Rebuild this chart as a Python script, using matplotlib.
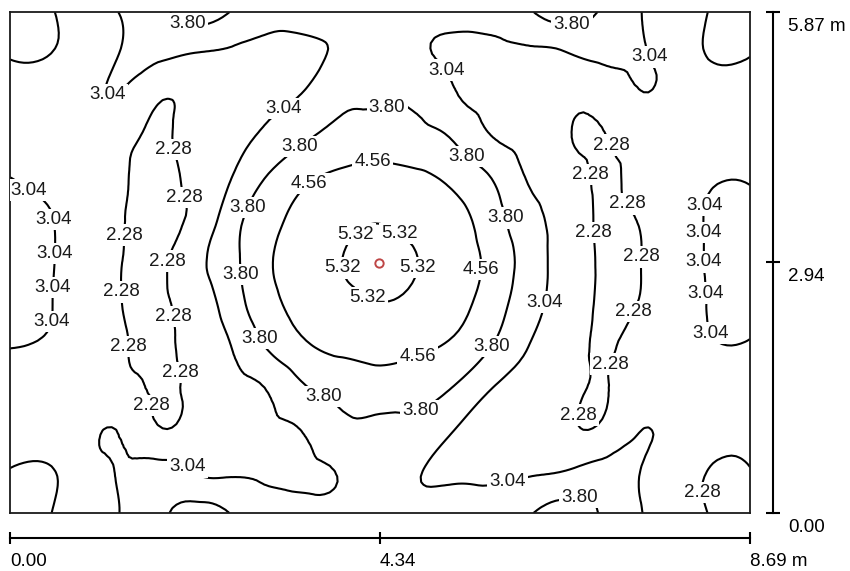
import numpy as np
import matplotlib
matplotlib.use("Agg")
import matplotlib.pyplot as plt
import matplotlib.tri as mtri
from matplotlib.transforms import ScaledTranslation

plt.rcParams['font.family'] = ['Liberation Sans', 'DejaVu Sans']

room_width = 8.69
room_depth = 5.87

# illuminance, one row per grid line from the top wall down
x_nodes = np.linspace(0, room_width, 21)
y_nodes = np.linspace(room_depth, 0, 13)
lux_rows = [
    [2.05, 2.20, 2.70, 3.06, 3.50, 4.30, 3.75, 3.30, 3.25, 3.30, 3.40, 3.35, 3.25, 3.30, 3.70, 4.30, 3.70, 3.08, 2.75, 2.20, 2.05],
    [2.22, 2.25, 2.65, 3.06, 3.20, 3.02, 2.95, 2.90, 2.95, 3.20, 3.45, 3.15, 2.95, 2.90, 2.92, 3.00, 3.20, 3.10, 2.75, 2.20, 2.25],
    [2.60, 2.65, 2.80, 3.00, 2.38, 2.55, 2.80, 2.95, 3.10, 3.62, 3.68, 3.62, 3.10, 2.85, 2.80, 2.50, 2.55, 3.00, 2.80, 2.65, 2.60],
    [2.70, 2.72, 2.62, 2.45, 2.22, 2.45, 2.80, 3.20, 3.71, 4.06, 4.17, 4.06, 3.72, 3.06, 2.80, 2.35, 2.24, 2.60, 2.75, 2.70, 2.70],
    [3.05, 2.92, 2.75, 2.35, 2.20, 2.40, 3.06, 3.90, 4.47, 4.74, 4.83, 4.72, 4.40, 3.82, 3.00, 2.60, 2.20, 2.50, 2.75, 2.98, 3.00],
    [3.15, 3.08, 2.72, 2.30, 2.20, 2.45, 3.50, 4.33, 4.82, 5.14, 5.30, 5.14, 4.80, 4.18, 3.32, 2.72, 2.20, 2.30, 2.70, 3.12, 3.15],
    [3.20, 3.10, 2.70, 2.29, 2.18, 2.79, 3.60, 4.49, 4.94, 5.33, 5.45, 5.33, 4.92, 4.37, 3.47, 2.72, 2.22, 2.26, 2.70, 3.12, 3.18],
    [3.20, 3.08, 2.72, 2.29, 2.18, 2.60, 3.42, 4.34, 4.82, 5.15, 5.30, 5.15, 4.80, 4.20, 3.35, 2.70, 2.20, 2.30, 2.70, 3.10, 3.15],
    [3.06, 2.98, 2.75, 2.35, 2.20, 2.45, 3.06, 3.90, 4.49, 4.74, 4.84, 4.72, 4.45, 3.82, 3.05, 2.60, 2.22, 2.50, 2.78, 3.00, 3.00],
    [2.75, 2.75, 2.65, 2.45, 2.22, 2.45, 2.85, 3.10, 3.76, 4.08, 4.20, 4.08, 3.76, 3.06, 2.85, 2.50, 2.25, 2.60, 2.75, 2.70, 2.65],
    [2.60, 2.60, 2.80, 2.98, 2.33, 2.60, 2.85, 2.95, 3.10, 3.60, 3.62, 3.60, 3.05, 2.90, 2.80, 2.45, 2.40, 3.02, 2.80, 2.60, 2.55],
    [2.25, 2.22, 2.70, 3.10, 3.30, 3.02, 2.95, 2.95, 2.95, 3.10, 3.40, 3.10, 2.95, 2.95, 2.97, 3.05, 3.30, 3.05, 2.75, 2.20, 2.25],
    [2.00, 2.22, 2.70, 3.06, 3.50, 4.30, 3.75, 3.30, 3.25, 3.30, 3.40, 3.40, 3.30, 3.40, 3.70, 4.30, 3.70, 3.06, 2.75, 2.22, 2.00],
]

levels = [2.28, 3.04, 3.80, 4.56, 5.32]

luminaire_x = [4.33]
luminaire_y = [2.93]

x_ticks = [0.0, 4.34, 8.69]
x_tick_labels = ['0.00', '4.34', '8.69 m']
y_ticks = [0.0, 2.94, 5.87]
y_tick_labels = ['0.00', '2.94', '5.87 m']

# where the value labels sit (metres), one list per isoline
label_spots = {
    2.28: [(2.02, 4.28), (1.90, 3.62), (1.27, 3.26), (1.81, 2.96), (1.27, 2.59),
           (1.90, 2.30), (1.43, 1.95), (2.03, 1.65), (1.80, 1.27),
           (7.06, 4.31), (6.67, 3.93), (7.28, 3.64), (6.81, 3.28), (7.40, 3.00),
           (7.32, 2.36), (7.10, 1.73), (6.63, 1.15), (8.03, 0.23)],
    3.04: [(1.07, 4.80), (3.21, 4.75), (5.13, 5.19), (7.36, 5.31),
           (0.25, 3.82), (0.28, 3.41), (0.32, 3.05), (0.31, 2.65), (0.26, 2.30),
           (8.01, 3.63), (8.23, 3.29), (8.27, 2.94), (8.23, 2.58), (7.90, 1.97),
           (6.28, 2.47), (2.04, 0.47), (5.86, 0.29)],
    3.80: [(2.08, 5.72), (6.60, 5.72), (4.44, 4.69), (3.37, 4.34), (5.41, 4.22),
           (2.81, 3.57), (2.69, 2.79), (2.91, 2.03), (5.65, 1.95), (5.88, 3.47),
           (3.66, 1.32), (4.78, 1.27), (6.69, 0.19)],
    4.56: [(4.25, 4.25), (3.46, 3.93), (5.55, 2.85), (4.83, 1.71)],
    5.32: [(4.04, 3.28), (4.59, 3.29), (3.89, 2.87), (4.77, 2.88), (4.20, 2.52)],
}

W, H = 850, 571


def px_box(x0, y0, x1, y1):
    return [x0 / W, 1 - y1 / H, (x1 - x0) / W, (y1 - y0) / H]


fig = plt.figure(figsize=(W / 100, H / 100), dpi=100)
ax = fig.add_axes(px_box(10, 12, 750, 513))
ax.set_xlim(0, room_width)
ax.set_ylim(0, room_depth)
ax.set_xticks([])
ax.set_yticks([])
for s in ax.spines.values():
    s.set_linewidth(1.3)
    s.set_color('#1a1a1a')

# grid cells split into two triangles each, then smoothed by the refiner
X, Y = np.meshgrid(x_nodes, y_nodes)
Z = np.array(lux_rows)
ny, nx = Z.shape
idx = np.arange(ny * nx).reshape(ny, nx)
a = idx[:-1, :-1].ravel()
b = idx[:-1, 1:].ravel()
c = idx[1:, :-1].ravel()
d = idx[1:, 1:].ravel()
cells = np.concatenate([np.column_stack([a, c, b]), np.column_stack([b, c, d])])
triang = mtri.Triangulation(X.ravel(), Y.ravel(), cells)
fine_tri, fine_z = mtri.UniformTriRefiner(triang).refine_field(Z.ravel(), subdiv=3)

for lev in levels:
    cs = ax.tricontour(fine_tri, fine_z, levels=[lev], colors='black', linewidths=1.5)
    texts = cs.clabel(fmt='%.2f', manual=label_spots[lev], inline=False, fontsize=13.5)
    for t in texts:
        t.set_rotation(0)
        t.set_color('#1a1a1a')
        t.set_bbox(dict(boxstyle='square,pad=0.12', fc='white', ec='none'))

ax.plot(luminaire_x, luminaire_y, 'o', mfc='none', mec='#be4646', ms=6, mew=1.4, zorder=6)

# scale along the bottom
axb = fig.add_axes([10 / W, 1 - 538 / H, 740 / W, 0.0001])
axb.patch.set_visible(False)
axb.set_xlim(0, room_width)
axb.set_yticks([])
for side in ['top', 'left', 'right']:
    axb.spines[side].set_visible(False)
axb.spines['bottom'].set_linewidth(1.5)
axb.set_xticks(x_ticks, x_tick_labels, ha='left')
axb.tick_params(axis='x', direction='inout', length=9, width=1.5, pad=6, labelsize=13.5)

# scale along the right side
axr = fig.add_axes([773 / W, 1 - 513 / H, 0.0001, 501 / H])
axr.patch.set_visible(False)
axr.set_ylim(0, room_depth)
axr.set_xticks([])
for side in ['top', 'left', 'bottom']:
    axr.spines[side].set_visible(False)
axr.spines['right'].set_linewidth(1.5)
axr.yaxis.tick_right()
axr.set_yticks(y_ticks, y_tick_labels, va='top')
axr.tick_params(axis='y', direction='inout', length=9.5, width=1.5, pad=6, labelsize=13.5)
shift = ScaledTranslation(0, -6 / 100, fig.dpi_scale_trans)
for lbl in axr.get_yticklabels():
    lbl.set_transform(lbl.get_transform() + shift)

fig.savefig('out.png', dpi=100)
